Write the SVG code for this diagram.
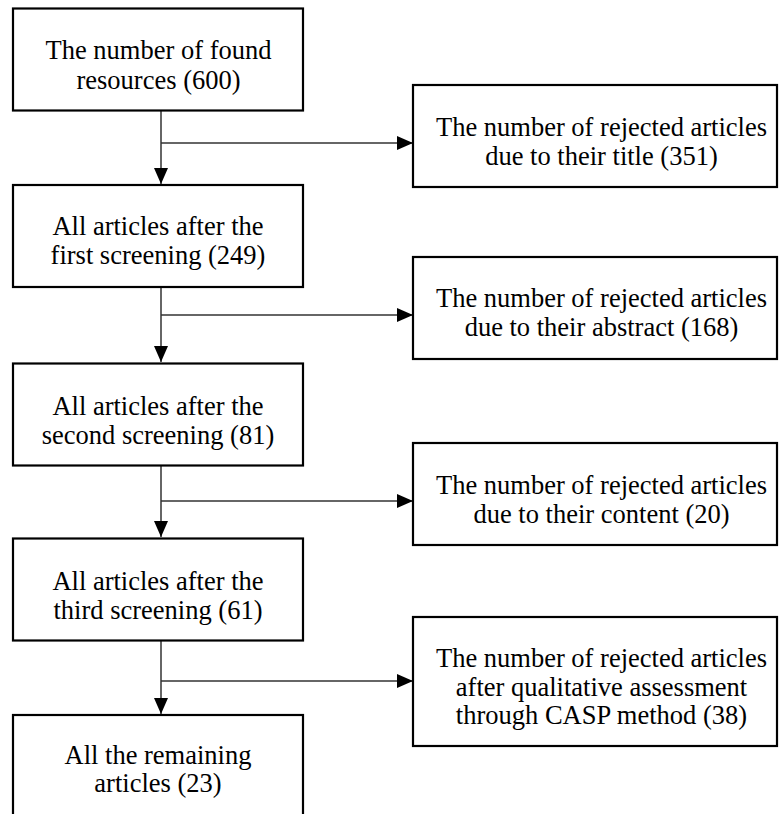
<svg xmlns="http://www.w3.org/2000/svg" width="780" height="814" viewBox="0 0 780 814">
<defs>
<style>
.box{fill:#fff;stroke:#000;stroke-width:2.2}
.t{font-size:26.5px;fill:#000;text-anchor:middle}
.c{fill:none;stroke:#333;stroke-width:1.5}
</style>
<marker id="ah" viewBox="0 0 16 16" refX="16" refY="8" markerWidth="16" markerHeight="16" markerUnits="userSpaceOnUse" orient="auto">
<path d="M0,1 L16,8 L0,15 Z" fill="#000"/>
</marker>
</defs>
<rect width="780" height="814" fill="#fff"/>
<g id="connectors">
<path class="c" d="M161,111 V184" marker-end="url(#ah)"/>
<path class="c" d="M161,143 H413" marker-end="url(#ah)"/>
<path class="c" d="M161,287 V362" marker-end="url(#ah)"/>
<path class="c" d="M161,315 H413" marker-end="url(#ah)"/>
<path class="c" d="M161,466 V537" marker-end="url(#ah)"/>
<path class="c" d="M161,501 H413" marker-end="url(#ah)"/>
<path class="c" d="M161,641 V714" marker-end="url(#ah)"/>
<path class="c" d="M161,681 H413" marker-end="url(#ah)"/>
</g>
<g id="n1" font-family="'Liberation Serif'"><rect class="box" x="13" y="8.5" width="290" height="102"/>
<text class="t" x="158.5" y="59">The number of found</text><text class="t" x="158.5" y="88.5">resources (600)</text></g>
<g id="n2" font-family="Times New Roman"><rect class="box" x="13" y="185" width="290" height="102"/>
<text class="t" x="158" y="235">All articles after the</text><text class="t" x="158" y="264">first screening (249)</text></g>
<g id="n3" font-family="Tinos"><rect class="box" x="13" y="363.5" width="290" height="102"/>
<text class="t" x="158" y="414.5">All articles after the</text><text class="t" x="158" y="443.5">second screening (81)</text></g>
<g id="n4" font-family="serif"><rect class="box" x="13" y="538.5" width="290" height="102"/>
<text class="t" x="158" y="589.5">All articles after the</text><text class="t" x="158" y="618.5">third screening (61)</text></g>
<g id="n5" font-family="Tinos"><rect class="box" x="13" y="715" width="290" height="120"/>
<text class="t" x="158" y="764">All the remaining</text><text class="t" x="158" y="792">articles (23)</text></g>
<g id="r1" font-family="'Liberation Serif'"><rect class="box" x="413" y="85" width="364" height="102"/>
<text class="t" x="601.5" y="136">The number of rejected articles</text><text class="t" x="601.5" y="165">due to their title (351)</text></g>
<g id="r2" font-family="Times New Roman"><rect class="box" x="413" y="257" width="364" height="102"/>
<text class="t" x="601.5" y="306.5">The number of rejected articles</text><text class="t" x="601.5" y="335.5">due to their abstract (168)</text></g>
<g id="r3" font-family="serif"><rect class="box" x="413" y="443" width="364" height="102"/>
<text class="t" x="601.5" y="493.5">The number of rejected articles</text><text class="t" x="601.5" y="522.5">due to their content (20)</text></g>
<g id="r4" font-family="'Liberation Serif'"><rect class="box" x="413" y="617" width="364" height="129"/>
<text class="t" x="601.5" y="667">The number of rejected articles</text><text class="t" x="601.5" y="695.5">after qualitative assessment</text><text class="t" x="601.5" y="724">through CASP method (38)</text></g>
</svg>
